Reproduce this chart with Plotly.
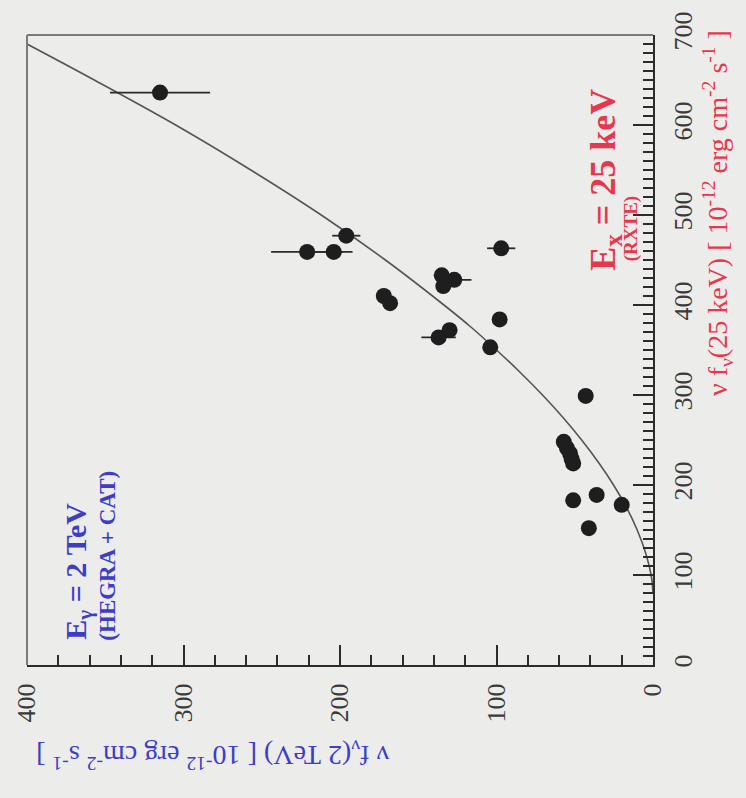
import plotly.graph_objects as go

# Measured fluxes: TeV band (2 TeV) vs X-ray band (25 keV), units of 1e-12 erg cm^-2 s^-1
tev_flux = [315, 196, 221, 204, 97, 135, 127, 134, 172, 168, 98, 137, 130, 104,
            43, 57, 55, 53, 52, 51, 51, 36, 20, 41]
kev_flux = [636, 477, 459, 459, 463, 433, 428, 421, 410, 402, 384, 364, 372, 353,
            299, 248, 241, 235, 229, 224, 183, 189, 178, 152]
tev_err = [32, 9, 23, 12, 9, 0, 11, 0, 0, 0, 0, 11, 0, 0,
           0, 0, 0, 0, 0, 0, 0, 0, 0, 0]

# Correlation curve read along its length
curve_kev = [80, 100, 125, 150, 175, 200, 225, 250, 275, 300, 325, 350, 375,
             400, 450, 500, 550, 600, 650, 690]
curve_tev = [0, 1.2, 4.8, 10.1, 16.9, 25.2, 34.8, 45.6, 57.5, 70.6, 84.8, 100,
             116, 133.6, 171, 212, 257, 305, 357, 400]

tev_ticks = [0, 100, 200, 300, 400]
kev_ticks = [0, 100, 200, 300, 400, 500, 600, 700]

W, H = 746, 798
L, R, T, B = 24, 653, 29, 665

def px(x):
    return (x - L) / (R - L)

def py(y):
    return (B - y) / (B - T)

BG = "#ececea"
BLUE = "#3d3dc8"
RED = "#e8364c"
SERIF = "Liberation Serif, Times New Roman, serif"

fig = go.Figure()

fig.add_trace(go.Scatter(
    x=curve_tev, y=curve_kev, mode="lines", line=dict(color="#555555", width=1.6, shape="spline"),
    hoverinfo="skip", showlegend=False))

fig.add_trace(go.Scatter(
    x=tev_flux, y=kev_flux, mode="markers",
    marker=dict(size=16, color="#1e1e1e"),
    error_x=dict(type="data", array=tev_err, visible=True, color="#2a2a2a", thickness=1.8, width=0),
    showlegend=False))

axis_common = dict(
    showgrid=False, zeroline=False, showline=True, linecolor="#2b2b2b", linewidth=2,
    ticks="inside", tickcolor="#2b2b2b", tickwidth=2, ticklen=20,
    tickangle=-90, tickfont=dict(family=SERIF, size=26, color="#3a3a3a"),
    ticklabelstandoff=6,
)

fig.update_xaxes(
    range=[400, 0], tickvals=tev_ticks, ticktext=[str(v) for v in tev_ticks],
    minor=dict(ticks="inside", dtick=20, ticklen=10, tickwidth=1.5, tickcolor="#2b2b2b"),
    **axis_common)
fig.update_yaxes(
    range=[0, 700], side="right", tickvals=kev_ticks, ticktext=[str(v) for v in kev_ticks],
    minor=dict(ticks="inside", dtick=10, ticklen=10, tickwidth=1.5, tickcolor="#2b2b2b"),
    **axis_common)

# Upper and left frame edges
fig.add_shape(type="line", xref="paper", yref="paper", x0=0, x1=1, y0=1, y1=1,
              line=dict(color="#7a7a7a", width=2))
fig.add_shape(type="line", xref="paper", yref="paper", x0=0, x1=0, y0=0, y1=1,
              line=dict(color="#7a7a7a", width=2))

ann = []
ann.append(dict(x=px(75), y=py(570), text="<b>E<sub>γ</sub> = 2 TeV</b>", textangle=-90,
                font=dict(family=SERIF, size=30, color=BLUE)))
ann.append(dict(x=px(104), y=py(555), text="<b>(HEGRA + CAT)</b>", textangle=-90,
                font=dict(family=SERIF, size=23, color=BLUE)))
ann.append(dict(x=px(605), y=py(175), text="<b>E<sub>x</sub> = 25 keV</b>", textangle=-90,
                font=dict(family=SERIF, size=36, color=RED)))
ann.append(dict(x=px(631), y=py(225), text="<b>(RXTE)</b>", textangle=-90,
                font=dict(family=SERIF, size=19, color=RED)))
ann.append(dict(x=px(718), y=py(209),
                text="ν f<sub>ν</sub>(25 keV) [ 10<sup>-12</sup> erg cm<sup>-2</sup> s<sup>-1</sup> ]",
                textangle=-90, font=dict(family=SERIF, size=28, color=RED)))
ann.append(dict(x=px(211), y=py(756),
                text="ν f<sub>ν</sub>(2 TeV) [ 10<sup>-12</sup> erg cm<sup>-2</sup> s<sup>-1</sup> ]",
                textangle=180, font=dict(family=SERIF, size=28, color=BLUE)))
for a in ann:
    a.update(xref="paper", yref="paper", showarrow=False, xanchor="center", yanchor="middle")

fig.update_layout(
    width=W, height=H, margin=dict(l=L, r=W - R, t=T, b=H - B),
    paper_bgcolor=BG, plot_bgcolor=BG, annotations=ann, showlegend=False)

fig.write_html("out.html")
